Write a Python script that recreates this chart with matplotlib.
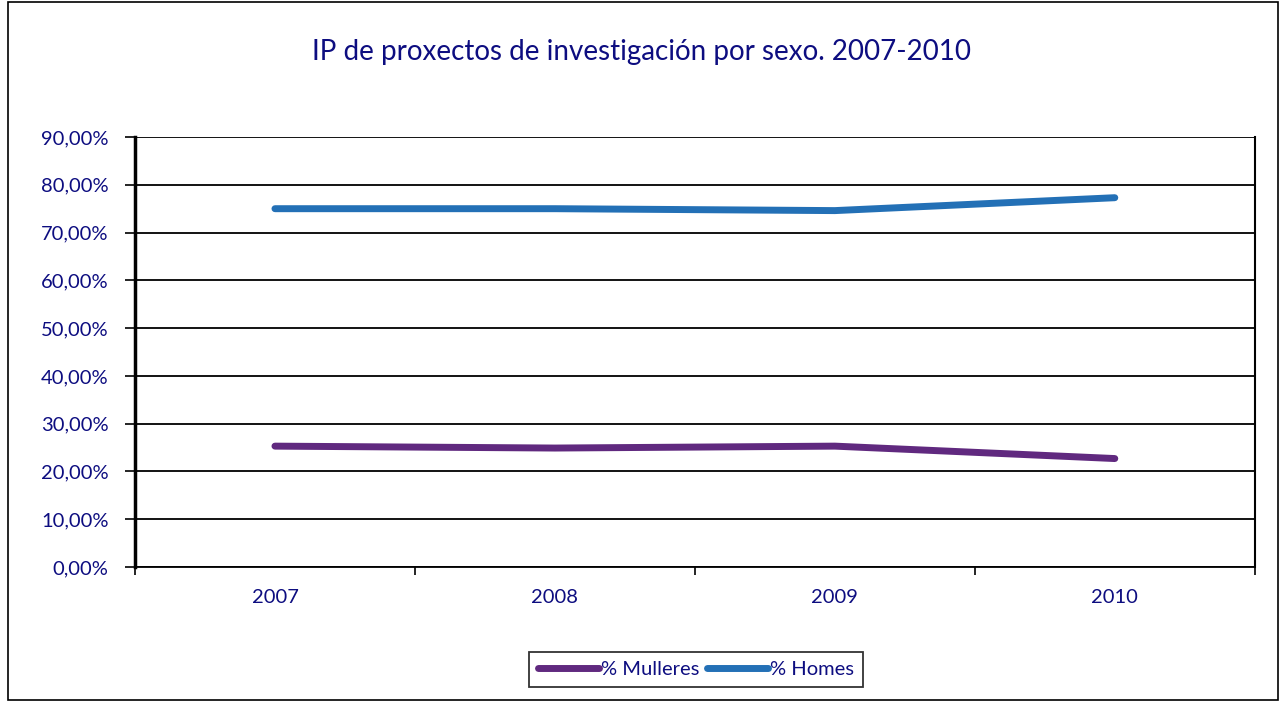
import matplotlib.pyplot as plt
from matplotlib.patches import Rectangle
from matplotlib.ticker import FuncFormatter

years = ['2007', '2008', '2009', '2010']
mulleres = [25.3, 24.9, 25.3, 22.7]
homes = [75.0, 75.0, 74.6, 77.3]

NAVY = '#0d0d80'
PURPLE = '#60297f'
BLUE = '#2370b6'

plt.rcParams['font.family'] = ['Lato', 'DejaVu Sans']

fig = plt.figure(figsize=(12.83, 7.02), dpi=100)
ax = fig.add_axes([0.1052, 0.1923, 0.8728, 0.6125])

x = range(len(years))
ax.plot(x, mulleres, color=PURPLE, lw=5, solid_capstyle='round', label='% Mulleres')
ax.plot(x, homes, color=BLUE, lw=5, solid_capstyle='round', label='% Homes')

ax.set_xlim(-0.5, 3.5)
ax.set_ylim(0, 90)
ax.set_yticks(range(0, 91, 10))
ax.yaxis.set_major_formatter(FuncFormatter(lambda v, p: ('%.2f%%' % v).replace('.', ',')))
ax.set_xticks([-0.5, 0.5, 1.5, 2.5, 3.5])
ax.set_xticklabels([])
ax.set_xticks(list(x), minor=True)
ax.set_xticklabels(years, minor=True)
ax.tick_params(axis='x', which='minor', length=0, pad=16, labelsize=14.5, labelcolor=NAVY)
ax.tick_params(axis='x', which='major', length=6, width=1.2, direction='out')
ax.tick_params(axis='y', length=7, width=1.2, labelsize=14.5, labelcolor=NAVY, pad=12)
ax.grid(axis='y', color='black', lw=1.3)
ax.set_axisbelow(True)
ax.spines['top'].set_visible(False)
ax.spines['left'].set_linewidth(2.5)
ax.spines['right'].set_linewidth(1.5)
ax.spines['bottom'].set_linewidth(1.3)

fig.text(0.5, 0.926, 'IP de proxectos de investigación por sexo. 2007-2010',
         ha='center', va='center', fontsize=20, color=NAVY)

leg = fig.legend(loc='center', bbox_to_anchor=(0.5425, 0.046), ncol=2, frameon=True,
                 fontsize=14.5, handlelength=3, handletextpad=0.1, columnspacing=0.4,
                 borderpad=0.45, fancybox=False)
leg.get_frame().set_edgecolor('black')
leg.get_frame().set_linewidth(1.3)
for t in leg.get_texts():
    t.set_color(NAVY)

fig.patches.append(Rectangle((0.006, 0.003), 0.99, 0.994, transform=fig.transFigure,
                             fill=False, edgecolor='black', lw=1.2))

fig.savefig('out.png', dpi=100)
